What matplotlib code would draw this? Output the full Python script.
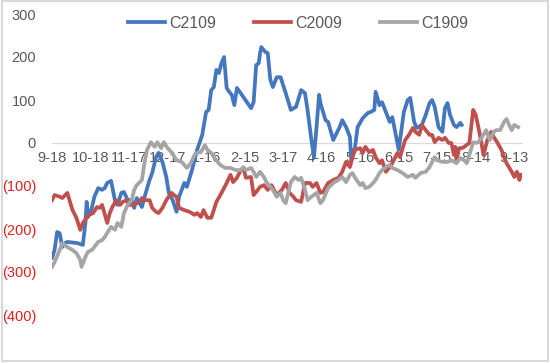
import matplotlib.pyplot as plt
from matplotlib.patches import Rectangle

# days counted from 9-18
tick_days = [0, 30, 60, 90, 120, 150, 180, 210, 240, 270, 300, 330, 360]
tick_labels = ['9-18', '10-18', '11-17', '12-17', '1-16', '2-15', '3-17',
               '4-16', '5-16', '6-15', '7-15', '8-14', '9-13']

y_ticks = [300, 200, 100, 0, -100, -200, -300, -400]

c2109_days = [0, 2, 4, 6, 8, 10, 12, 20, 24, 26, 27, 28, 31, 33, 36, 39, 41, 43, 46,
              49, 51, 54, 56, 59, 62, 64, 66, 70, 73, 76, 78, 81, 83, 86, 89, 91, 94,
              97, 99, 103, 105, 109, 113, 117, 118, 120, 122, 124, 126, 128, 130, 132,
              134, 136, 138, 140, 142, 144, 149, 155, 157, 159, 161, 162, 163, 166,
              168, 170, 172, 175, 178, 182, 186, 190, 194, 197, 199, 202, 204, 206,
              208, 209, 213, 215, 219, 221, 224, 226, 229, 232, 233, 236, 238, 242,
              246, 248, 251, 252, 255, 257, 260, 263, 265, 267, 270, 274, 277, 279,
              282, 284, 288, 291, 294, 296, 298, 301, 304, 306, 308, 310, 313, 315,
              318, 319]
c2109 = [-267, -249, -207, -210, -242, -233, -230, -233, -237, -186, -137, -172, -151,
         -125, -105, -109, -105, -93, -88, -133, -144, -116, -114, -133, -133, -151,
         -128, -149, -116, -86, -70, -33, -23, -44, -79, -116, -133, -160, -125, -93,
         -102, -63, -16, 19, 37, 72, 77, 123, 130, 170, 163, 186, 200, 128, 119, 112,
         88, 128, 107, 81, 95, 181, 186, 209, 223, 212, 209, 147, 130, 153, 153, 116,
         77, 84, 123, 116, 77, 7, -33, 37, 112, 93, 53, 49, 7, 19, 37, 53, 37, 14, -40,
         -9, 37, 58, 70, 72, 77, 119, 88, 95, 72, 49, 60, 30, -16, 72, 100, 105, 49,
         35, 42, 65, 93, 100, 84, 37, 26, 81, 93, 65, 42, 37, 47, 42]

c2009_days = [0, 2, 6, 8, 12, 14, 16, 19, 22, 24, 27, 29, 32, 35, 37, 39, 43, 45, 47,
              50, 53, 55, 58, 60, 63, 66, 68, 70, 73, 76, 78, 81, 83, 86, 89, 93, 95,
              97, 99, 103, 107, 111, 113, 116, 118, 121, 124, 126, 128, 132, 136, 139,
              141, 144, 147, 149, 151, 155, 157, 159, 162, 165, 168, 171, 175, 179,
              182, 185, 188, 190, 194, 197, 201, 203, 206, 209, 211, 215, 219, 223,
              226, 229, 232, 234, 236, 240, 242, 244, 247, 250, 252, 255, 257, 260,
              263, 265, 269, 271, 275, 278, 281, 283, 286, 288, 291, 294, 296, 298,
              301, 304, 306, 309, 311, 313, 314, 315, 317, 319, 321, 325, 328, 330,
              332, 334, 336, 339, 342, 344, 347, 350, 352, 354, 358, 360, 362, 364, 365]
c2009 = [-133, -121, -125, -128, -116, -137, -156, -174, -202, -186, -174, -167, -163,
         -149, -151, -144, -186, -163, -149, -133, -144, -137, -133, -144, -144, -140,
         -137, -128, -133, -133, -151, -160, -163, -151, -133, -116, -121, -125, -151,
         -156, -160, -167, -163, -172, -156, -174, -174, -156, -137, -116, -93, -74,
         -91, -81, -63, -58, -81, -79, -121, -114, -102, -98, -109, -98, -121, -109,
         -93, -116, -125, -133, -137, -93, -93, -102, -93, -116, -114, -93, -86, -81,
         -67, -44, -56, -33, -16, -12, -23, -9, -21, -16, -33, -47, -40, -67, -56, -47,
         -23, -33, 7, 19, 35, 26, 19, 42, 30, 19, 19, 2, 12, 7, 12, 0, 0, -28, -9, -40,
         -12, -12, -9, 0, 77, 65, 37, 7, -28, 7, 26, 14, 0, -16, -33, -47, -67, -79,
         -67, -86, -74]

c1909_days = [0, 2, 5, 8, 12, 16, 19, 22, 23, 26, 28, 31, 33, 36, 39, 41, 43, 46, 49,
              51, 54, 56, 59, 62, 64, 66, 70, 72, 74, 77, 80, 82, 85, 87, 90, 93, 97,
              101, 105, 108, 111, 113, 116, 119, 121, 124, 126, 128, 131, 135, 139,
              143, 147, 149, 151, 155, 157, 159, 162, 165, 167, 170, 172, 175, 178,
              180, 182, 186, 189, 192, 194, 197, 199, 202, 206, 209, 211, 215, 219,
              223, 226, 229, 232, 234, 236, 240, 242, 244, 247, 250, 252, 255, 257,
              260, 263, 265, 269, 273, 277, 281, 283, 287, 291, 294, 298, 300, 304,
              308, 311, 315, 318, 321, 323, 325, 328, 330, 332, 335, 338, 341, 344,
              346, 349, 352, 354, 356, 358, 360, 363]
c1909 = [-288, -277, -256, -233, -242, -249, -256, -272, -288, -265, -253, -249, -242,
         -230, -226, -219, -209, -195, -202, -186, -195, -163, -144, -133, -109, -98,
         -86, -47, -16, 2, -9, 2, -12, 2, -12, -21, -40, -44, -58, -47, -28, -23, -21,
         -5, -16, -23, -33, -40, -51, -58, -58, -63, -63, -56, -63, -58, -67, -79, -67,
         -79, -91, -102, -109, -125, -116, -133, -140, -91, -79, -86, -81, -109, -133,
         -125, -116, -140, -133, -105, -93, -86, -79, -91, -74, -70, -81, -98, -93,
         -105, -102, -93, -86, -70, -63, -56, -51, -58, -63, -70, -79, -74, -81, -70,
         -67, -56, -33, -40, -44, -44, -40, -47, -35, -40, -47, -28, 2, 0, 2, 14, 30, 7,
         26, 30, 30, 49, 56, 42, 30, 42, 37]

text_grey = '#595959'
plt.rcParams['font.family'] = ['Liberation Sans', 'DejaVu Sans']

fig = plt.figure(figsize=(5.5, 3.63), dpi=100)
fig.patches.append(Rectangle((0.003, 0.006), 0.994, 0.99, transform=fig.transFigure,
                             fill=False, edgecolor='#d9d9d9', linewidth=1.5))
ax = fig.add_axes([52 / 550, 1 - 315 / 363, 470 / 550, 301 / 363])

ax.plot(c2109_days, c2109, color='#4477bd', lw=2.7, label='C2109')
ax.plot(c2009_days, c2009, color='#c0504d', lw=2.7, label='C2009')
ax.plot(c1909_days, c1909, color='#a5a5a5', lw=2.7, label='C1909')

ax.set_xlim(0, 366)
ax.set_ylim(-400, 300)

for side in ['top', 'right', 'left']:
    ax.spines[side].set_visible(False)
ax.spines['bottom'].set_position(('data', 0))
ax.spines['bottom'].set_color('#d9d9d9')
ax.spines['bottom'].set_zorder(0)

ax.set_xticks(tick_days, tick_labels)
ax.tick_params(axis='x', length=0, pad=6, labelsize=10.5, labelcolor=text_grey)

ax.set_yticks(y_ticks, [str(v) if v >= 0 else '(%d)' % -v for v in y_ticks])
ax.tick_params(axis='y', length=0, pad=11.5, labelsize=10.5)
for lab, v in zip(ax.get_yticklabels(), y_ticks):
    lab.set_color(text_grey if v >= 0 else '#e0201b')

ax.legend(loc='center', bbox_to_anchor=(298 / 550, 1 - 23 / 363),
          bbox_transform=fig.transFigure, ncol=3, frameon=False,
          fontsize=11.5, handlelength=2.3, columnspacing=2.4, handletextpad=0.25,
          labelcolor=text_grey)

fig.savefig('out.png', dpi=100)
